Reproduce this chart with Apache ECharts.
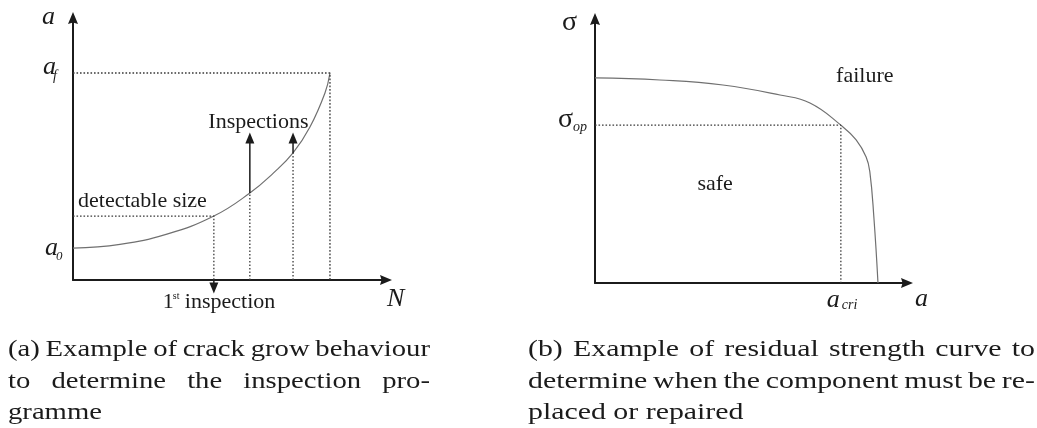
<!DOCTYPE html>
<html>
<head>
<meta charset="utf-8">
<script src="https://cdn.jsdelivr.net/npm/echarts@6/dist/echarts.min.js"></script>
<style>
  html, body { margin: 0; padding: 0; background: #fff; }
  #chart { width: 1037px; height: 428px; }
</style>
</head>
<body>
<div id="chart"></div>
<script>
// (a) crack length a against load cycles N (schematic units)
const growthN = [0, 1.5, 3.0, 4.5, 5.65, 6.4, 7.03, 7.57, 8.05, 8.21];
const growthA = [1.22, 1.36, 1.75, 2.44, 3.32, 4.08, 4.85, 5.84, 7.14, 7.9];
const initialA = 1.22;
const finalN = 8.21;
const finalA = 7.9;
const detectN = 4.5;
const detectA = 2.44;
const firstInspectionTip = -0.31;
const inspectionN = [5.65, 7.03];
const inspectionA = [3.32, 4.85];
const inspectionTip = 5.42;

// (b) residual strength sigma against crack length a (schematic units)
const crackA = [0, 2.08, 4.10, 5.93, 6.89, 7.88, 8.37, 8.69, 8.81, 8.94, 9.07];
const residualSigma = [7.77, 7.69, 7.50, 7.12, 6.82, 5.98, 5.42, 4.77, 4.20, 2.46, 0];
const sigmaOp = 5.98;
const aCri = 7.88;

const captionA = ['(a) Example of crack grow behaviour', 'to determine the inspection pro-', 'gramme'];
const captionB = ['(b) Example of residual strength curve to', 'determine when the component must be re-', 'placed or repaired'];

const INK = '#1b1b1b';
const FAMILY = 'Liberation Serif';
const ARROW = 'path://M5,0 L10,12 L5,10.4 L0,12 Z';

const chart = echarts.init(document.getElementById('chart'), null, { renderer: 'canvas' });

function axis(gridIndex) {
  return {
    gridIndex, type: 'value', min: 0, max: 10,
    axisLine: { show: true, onZero: false, lineStyle: { color: INK, width: 2 },
                symbol: ['none', ARROW], symbolSize: [10, 13] },
    axisTick: { show: false }, axisLabel: { show: false }, splitLine: { show: false }
  };
}

function pairs(xs, ys) { return xs.map((x, i) => [x, ys[i]]); }

function curve(gridIndex, data) {
  return {
    type: 'line', xAxisIndex: gridIndex, yAxisIndex: gridIndex, data,
    smooth: 0.45, showSymbol: false, silent: true, animation: false,
    lineStyle: { color: '#707070', width: 1.2 }
  };
}

function dotted(gridIndex, data) {
  return {
    type: 'line', xAxisIndex: gridIndex, yAxisIndex: gridIndex, data,
    showSymbol: false, silent: true, animation: false, clip: false,
    lineStyle: { color: '#3a3a3a', width: 1.3, type: [1.6, 1.9] }
  };
}

function pointer(gridIndex, from, to, rotate) {
  return {
    type: 'line', xAxisIndex: gridIndex, yAxisIndex: gridIndex,
    data: [{ value: from, symbol: 'none' },
           { value: to, symbol: 'triangle', symbolSize: [9, 11], symbolRotate: rotate }],
    showSymbol: true, showAllSymbol: true, silent: true, animation: false, clip: false,
    itemStyle: { color: INK }, lineStyle: { color: INK, width: 1.5 }
  };
}

const series = [
  curve(0, pairs(growthN, growthA)),
  dotted(0, [[0, finalA], [finalN, finalA], [finalN, 0]]),
  dotted(0, [[0, detectA], [detectN, detectA], [detectN, 0]]),
  pointer(0, [detectN, 0], [detectN, firstInspectionTip], 180),
  curve(1, pairs(crackA, residualSigma)),
  dotted(1, [[0, sigmaOp], [aCri, sigmaOp], [aCri, 0]])
];
inspectionN.forEach((n, i) => {
  series.push(dotted(0, [[n, 0], [n, inspectionA[i]]]));
  series.push(pointer(0, [n, inspectionA[i]], [n, inspectionTip], 0));
});

chart.setOption({
  animation: false,
  grid: [
    { left: 73, top: 18, width: 313, height: 262 },
    { left: 595, top: 19, width: 312, height: 264 }
  ],
  xAxis: [axis(0), axis(1)],
  yAxis: [axis(0), axis(1)],
  series
});

// ---- text ----
const px = (g, x, y) => chart.convertToPixel({ gridIndex: g }, [x, y]);
const MID = 0.3375; // baseline offset of a middle-anchored line, in em

function txt(x, baseline, text, size, opts) {
  opts = opts || {};
  return {
    type: 'text', x, y: baseline - MID * size, scaleX: opts.scaleX || 1, silent: true,
    style: {
      text, fill: INK, align: opts.align || 'left', verticalAlign: 'middle',
      fontFamily: FAMILY, fontSize: size, fontStyle: opts.italic ? 'italic' : 'normal'
    }
  };
}

const g = [];
// (a) axis names and levels
const o0 = px(0, 0, 0);
const pf = px(0, 0, finalA);
const p0 = px(0, 0, initialA);
const pEnd = px(0, 10, 0);
g.push(txt(o0[0] - 31, 26, 'a', 26, { italic: true }));
g.push(txt(pf[0] - 30, pf[1] + 3, 'a', 26, { italic: true }));
g.push(txt(pf[0] - 20, pf[1] + 8, 'f', 14, { italic: true }));
g.push(txt(p0[0] - 28, p0[1] + 9, 'a', 26, { italic: true }));
g.push(txt(p0[0] - 17, p0[1] + 13, '0', 13, { italic: true }));
g.push(txt(pEnd[0] + 1, o0[1] + 28, 'N', 26, { italic: true }));
// (a) annotations
const pd = px(0, 0, detectA);
g.push(txt(pd[0] + 5, pd[1] - 7, 'detectable size', 22));
const p1 = px(0, detectN, 0);
g.push(txt(p1[0] - 51, p1[1] + 30, '1', 22));
g.push(txt(p1[0] - 41, p1[1] + 20, 'st', 10));
g.push(txt(p1[0] - 29, p1[1] + 30, 'inspection', 22));
const pi = px(0, (inspectionN[0] + inspectionN[1]) / 2, inspectionTip);
g.push(txt(pi[0] - 13, pi[1] - 8, 'Inspections', 22, { align: 'center' }));

// (b) axis names and levels
const o1 = px(1, 0, 0);
const ps = px(1, 0, sigmaOp);
const pc = px(1, aCri, 0);
const pEnd1 = px(1, 10, 0);
g.push(txt(o1[0] - 33, 32, 'σ', 28));
g.push(txt(ps[0] - 37, ps[1] + 4, 'σ', 28));
g.push(txt(ps[0] - 22, ps[1] + 7, 'op', 14, { italic: true }));
g.push(txt(pc[0] - 14, pc[1] + 26, 'a', 26, { italic: true }));
g.push(txt(pc[0] + 1, pc[1] + 27, 'cri', 14, { italic: true }));
g.push(txt(pEnd1[0] + 8, o1[1] + 25, 'a', 26, { italic: true }));
// (b) regions
g.push(txt(px(1, 9, 0)[0] - 11, 84, 'failure', 22, { align: 'center' }));
g.push(txt(px(1, 3.85, 0)[0], 192, 'safe', 22, { align: 'center' }));

// captions, justified to their column width
const measureCtx = document.createElement('canvas').getContext('2d');
function measure(text, size) {
  measureCtx.font = size + 'px "' + FAMILY + '"';
  return measureCtx.measureText(text).width;
}
function caption(lines, x0, x1, baseline0, lineGap, size) {
  const full = lines.slice(0, -1);
  const minGap = 0.25 * size;
  // common horizontal stretch: widest justified line keeps a normal word space
  const sx = Math.min.apply(null, full.map(line => {
    const words = line.split(' ');
    const inked = words.reduce((s, w) => s + measure(w, size), 0);
    return (x1 - x0 - minGap * (words.length - 1)) / inked;
  }));
  lines.forEach((line, i) => {
    const base = baseline0 + i * lineGap;
    const words = line.split(' ');
    const widths = words.map(w => measure(w, size) * sx);
    const last = i === lines.length - 1;
    const gap = last ? measure(' ', size) * sx
      : (x1 - x0 - widths.reduce((a, b) => a + b, 0)) / (words.length - 1);
    let x = x0;
    words.forEach((w, k) => {
      g.push(txt(x, base, w, size, { scaleX: sx }));
      x += widths[k] + gap;
    });
  });
}
caption(captionA, 8, 430, 358, 31.5, 23);
caption(captionB, 528, 1035, 358, 31.5, 23);

chart.setOption({ graphic: g });
</script>
</body>
</html>
